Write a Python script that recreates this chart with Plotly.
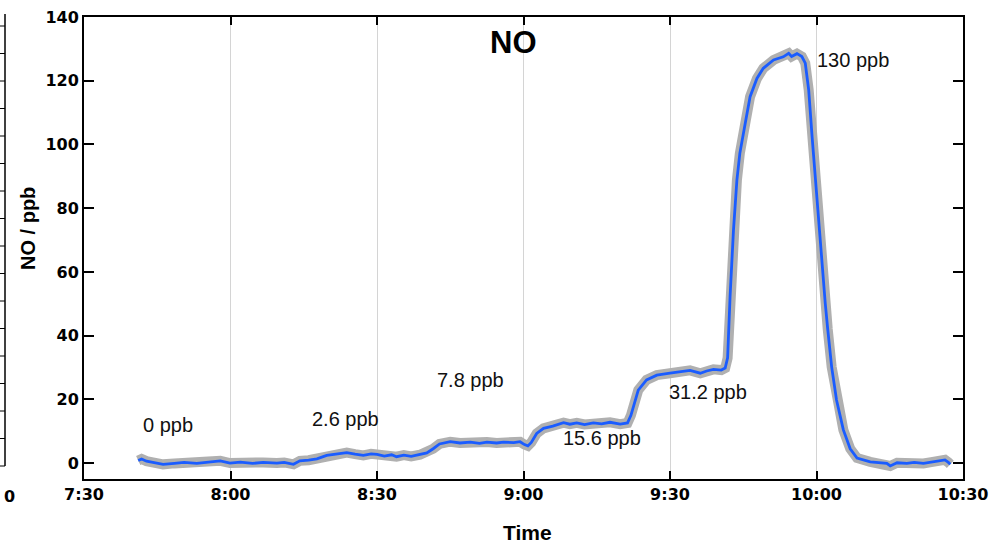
import plotly.graph_objects as go
import pandas as pd

# minutes after 07:30 and NO concentration (ppb)
minutes = [11.1, 11.8, 12.8, 14.0, 16.2, 18.5, 20.5, 23.1, 25.0, 27.9, 29.9, 32.0, 34.5, 36.7,
           39.5, 41.0, 42.9, 44.2, 46.0, 47.7, 49.7, 51.8, 53.8, 55.5, 57.2, 58.8, 60.0, 61.5,
           63.0, 64.0, 65.5, 67.0, 68.8, 70.2, 71.5, 72.8, 75.0, 77.0, 79.1, 81.0, 82.5, 84.5,
           85.9, 88.0, 89.3, 90.2, 90.9, 91.6, 92.7, 94.1, 96.0, 98.2, 99.5, 100.9, 102.5, 104.3,
           106.0, 107.7, 109.8, 111.3, 112.0, 112.5, 113.5, 115.2, 117.3, 120.0, 122.0, 124.1,
           126.2, 127.5, 128.9, 130.5, 131.3, 131.8, 132.3, 133.0, 133.7, 134.3, 135.4, 136.4,
           137.8, 139.1, 141.2, 143.2, 144.3, 144.9, 146.0, 147.0, 147.7, 148.4, 149.1, 149.8,
           150.3, 150.8, 151.3, 151.8, 152.3, 153.1, 154.1, 155.5, 156.9, 158.3, 161.0, 162.5,
           164.4, 165.1, 166.5, 168.5, 170.0, 171.9, 173.5, 174.6, 176.3, 177.0, 177.4]
no_ppb = [0.8, 1.3, 0.6, 0.2, -0.4, -0.1, 0.2, -0.1, 0.3, 0.7, 0.0, 0.3, -0.1, 0.2,
          0.0, 0.2, -0.4, 0.7, 0.9, 1.3, 2.4, 2.9, 3.3, 2.8, 2.4, 2.9, 2.7, 2.2,
          2.6, 2.0, 2.5, 2.1, 2.6, 3.2, 4.5, 6.0, 6.7, 6.3, 6.6, 6.2, 6.6, 6.3,
          6.6, 6.4, 6.7, 5.8, 5.4, 6.5, 9.3, 10.9, 11.6, 12.7, 12.2, 12.6, 12.1, 12.6,
          12.3, 12.8, 12.2, 12.6, 15.0, 17.7, 22.9, 26.1, 27.6, 28.2, 28.6, 29.1,
          28.2, 28.9, 29.4, 29.2, 29.8, 33.0, 52.2, 73.1, 88.8, 97.2, 106.6, 115.0,
          120.7, 123.9, 126.5, 127.5, 128.6, 127.6, 128.5, 127.6, 125.5, 117.1, 102.4, 88.8,
          77.3, 67.9, 58.0, 50.0, 42.0, 30.2, 19.8, 10.4, 4.5, 1.6, 0.4, 0.2,
          -0.1, -0.9, 0.1, -0.1, 0.2, -0.1, 0.3, 0.4, 1.0, 0.2, -0.4]

label_text = ["0 ppb", "2.6 ppb", "7.8 ppb", "15.6 ppb", "31.2 ppb", "130 ppb"]
label_min = [17.1, 53.5, 79.1, 106.1, 127.8, 157.5]
label_val = [11.9, 13.8, 26.0, 7.8, 22.3, 126.5]

tick_times = ["07:30", "08:00", "08:30", "09:00", "09:30", "10:00", "10:30"]
tick_text = ["7:30", "8:00", "8:30", "9:00", "9:30", "10:00", "10:30"]

base = pd.Timestamp("2020-01-01 07:30:00")
t = [base + pd.Timedelta(minutes=m) for m in minutes]
lt = [base + pd.Timedelta(minutes=m) for m in label_min]
tv = [pd.Timestamp("2020-01-01 " + s + ":00") for s in tick_times]

fig = go.Figure()
fig.add_trace(go.Scatter(x=t, y=no_ppb, mode="lines",
                         line=dict(color="#b0b0b0", width=10), hoverinfo="skip"))
fig.add_trace(go.Scatter(x=t, y=no_ppb, mode="lines",
                         line=dict(color="#1a5cff", width=2.8)))

for txt, x, y in zip(label_text, lt, label_val):
    fig.add_annotation(x=x, y=y, text=txt, showarrow=False, xanchor="center", yanchor="middle",
                       font=dict(family="Liberation Sans, Arial", size=20, color="#111"))

px = lambda p: (p - 84) / 879
py = lambda p: (479 - p) / 462

fig.add_annotation(x=px(513), y=py(42), xref="paper", yref="paper", text="<b>NO</b>",
                   xanchor="center", yanchor="middle", showarrow=False,
                   font=dict(family="Liberation Sans, Arial", size=31, color="#000"))
fig.add_annotation(x=px(28), y=py(229), xref="paper", yref="paper",
                   text="<b>NO / ppb</b>", textangle=-90, showarrow=False,
                   xanchor="center", yanchor="middle",
                   font=dict(family="Liberation Sans, Arial", size=20, color="#000"))
fig.add_annotation(x=px(527), y=py(532), xref="paper", yref="paper",
                   text="<b>Time</b>", showarrow=False, xanchor="center", yanchor="middle",
                   font=dict(family="Liberation Sans, Arial", size=21, color="#000"))

# cut-off neighbouring panel at the left edge
shapes = [dict(type="line", xref="paper", yref="paper", x0=px(5), x1=px(5), y0=py(14), y1=py(466),
               line=dict(color="#000", width=1.5))]
yy = 466
while yy > 14:
    shapes.append(dict(type="line", xref="paper", yref="paper", x0=px(0), x1=px(5),
                       y0=py(yy), y1=py(yy), line=dict(color="#000", width=1)))
    yy -= 27.5
fig.update_layout(shapes=shapes)
fig.add_annotation(x=px(2), y=py(497), xref="paper", yref="paper", text="<b>0</b>",
                   xanchor="left", yanchor="middle",
                   showarrow=False, font=dict(family="DejaVu Sans", size=16, color="#000"))

fig.update_layout(
    width=994, height=544,
    margin=dict(l=84, r=31, t=17, b=65, autoexpand=False),
    paper_bgcolor="white", plot_bgcolor="white",
    showlegend=False,
    xaxis=dict(type="date", range=[tv[0], tv[-1]], tickvals=tv, ticktext=tick_text,
               automargin=False,
               ticks="inside", ticklen=8, tickcolor="#000", tickwidth=1.5,
               showgrid=True, gridcolor="#d4d4d4", gridwidth=1,
               showline=True, linecolor="#000", linewidth=2, mirror="ticks",
               zeroline=False,
               tickfont=dict(family="DejaVu Sans", size=16, color="#000", weight="bold")),
    yaxis=dict(range=[-5, 140], tickvals=[0, 20, 40, 60, 80, 100, 120, 140],
               automargin=False,
               ticks="inside", ticklen=10, tickcolor="#000", tickwidth=1.5,
               showgrid=False, zeroline=False,
               showline=True, linecolor="#000", linewidth=2, mirror="ticks",
               tickfont=dict(family="DejaVu Sans", size=16, color="#000", weight="bold")),
)

fig.write_html("out.html")
